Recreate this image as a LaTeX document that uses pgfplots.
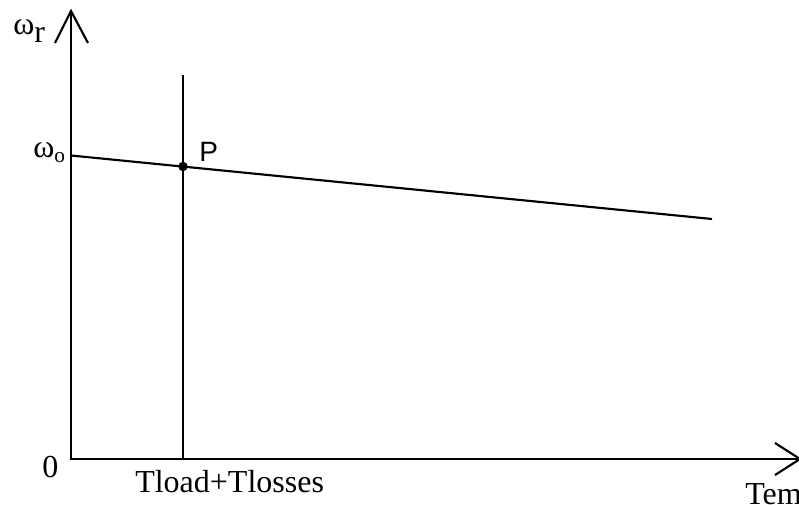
\documentclass[border=0pt]{standalone}
\usepackage{pgfplots}
\pgfplotsset{compat=1.18}
\usepackage{fontspec}
\setmainfont{Liberation Serif}
\newfontfamily\arial{Liberation Sans}
\begin{document}
\begin{tikzpicture}
\begin{axis}[
  scale only axis, width=599.25pt, height=378.75pt,
  xmin=0, xmax=799, ymin=0, ymax=505, y dir=reverse,
  axis lines=none, clip=false,
  cycle list={{black,solid,line width=1.5pt,mark=none}},
]
% axes
\addplot[black, solid, line width=1.6pt, mark=none] coordinates {(71,460) (71,11)};
\addplot[black, solid, line width=1.6pt, mark=none] coordinates {(55,43) (71,11) (88,43)};
\addplot[black, solid, line width=1.6pt, mark=none] coordinates {(71,459) (800,459)};
\addplot[black, solid, line width=1.6pt, mark=none] coordinates {(775,443) (800,459) (775,475)};
% vertical load line
\addplot[black, solid, line width=1.6pt, mark=none] coordinates {(183,75) (183,459)};
% speed-torque characteristic
\addplot[black, solid, line width=1.6pt, mark=none] coordinates {(71,155.5) (712,219)};
% operating point
\addplot[black, only marks, mark=*, mark size=3.3pt] coordinates {(183,166.5)};
% labels
\node[anchor=base west, inner sep=0] at (axis cs:13,35) {\fontsize{24}{24}\selectfont ω\raisebox{-6pt}{r}};
\node[anchor=base west, inner sep=0] at (axis cs:33,158) {\fontsize{24}{24}\selectfont ω\raisebox{-3.5pt}{\fontsize{16}{16}\selectfont o}};
\node[anchor=base west, inner sep=0] at (axis cs:42,477) {\fontsize{24}{24}\selectfont 0};
\node[anchor=base west, inner sep=0] at (axis cs:135,492) {\fontsize{24}{24}\selectfont Tload+Tlosses};
\node[anchor=base west, inner sep=0] at (axis cs:745,504) {\fontsize{24}{24}\selectfont Tem};
\node[anchor=base west, inner sep=0] at (axis cs:199,162) {\arial\fontsize{21}{21}\selectfont P};
\coordinate (bbA) at (axis cs:0,505);
\coordinate (bbB) at (axis cs:799,0);
\end{axis}
\pgfresetboundingbox
\useasboundingbox (bbA) rectangle (bbB);
\end{tikzpicture}
\end{document}
